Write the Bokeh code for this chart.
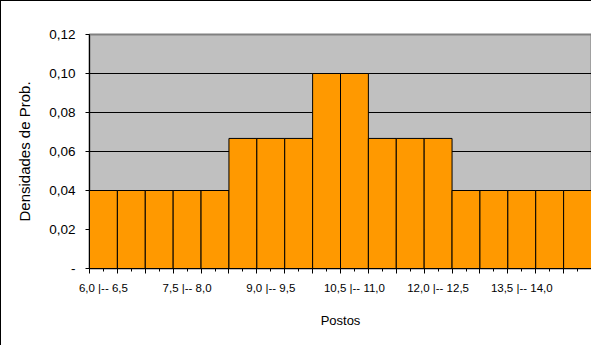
from bokeh.plotting import figure
from bokeh.models import FixedTicker, Range1d, ColumnDataSource
from bokeh.embed import file_html
from bokeh.resources import INLINE

categories = ["6,0 |-- 6,5", "6,5 |-- 7,0", "7,0 |-- 7,5", "7,5 |-- 8,0",
              "8,0 |-- 8,5", "8,5 |-- 9,0", "9,0 |-- 9,5", "9,5 |-- 10,0",
              "10,0 |-- 10,5", "10,5 |-- 11,0", "11,0 |-- 11,5", "11,5 |-- 12,0",
              "12,0 |-- 12,5", "12,5 |-- 13,0", "13,0 |-- 13,5", "13,5 |-- 14,0",
              "14,0 |-- 14,5", "14,5 |-- 15,0"]
densities = [0.04, 0.04, 0.04, 0.04, 0.04,
             0.0667, 0.0667, 0.0667,
             0.10, 0.10,
             0.0667, 0.0667, 0.0667,
             0.04, 0.04, 0.04, 0.04, 0.04]
y_ticks = [0.0, 0.02, 0.04, 0.06, 0.08, 0.10, 0.12]
y_tick_labels = ["-", "0,02", "0,04", "0,06", "0,08", "0,10", "0,12"]
label_every = 3

n = len(categories)
centers = [i + 0.5 for i in range(n)]
edges = [float(i) for i in range(n + 1)]

source = ColumnDataSource(data=dict(x=centers, top=densities, cat=categories))

FONT = "Liberation Sans"

p = figure(width=591, height=345, output_backend="svg", toolbar_location=None,
           x_range=Range1d(0, n), y_range=Range1d(0, 0.12),
           min_border_left=88, min_border_right=1, min_border_top=33, min_border_bottom=78)
p.styles = {"border-left": "1px solid black", "border-top": "1px solid black"}

p.border_fill_color = "white"
p.background_fill_color = "#C0C0C0"
p.outline_line_color = "#808080"
p.outline_line_width = 2

p.vbar(x="x", top="top", width=1.0, source=source,
       fill_color="#FF9900", line_color="black", line_width=1)

# grid
p.xgrid.visible = False
p.ygrid.ticker = FixedTicker(ticks=y_ticks)
p.ygrid.grid_line_color = "black"
p.ygrid.grid_line_width = 1

# x axis
xa = p.xaxis[0]
xa.ticker = FixedTicker(ticks=centers, minor_ticks=edges)
xa.major_label_overrides = {c: (categories[i] if i % label_every == 0 else "")
                            for i, c in enumerate(centers)}
xa.major_tick_in = 0
xa.major_tick_out = 3
xa.minor_tick_in = 0
xa.minor_tick_out = 5
xa.axis_line_color = "black"
xa.major_tick_line_color = "black"
xa.minor_tick_line_color = "black"
xa.major_label_text_font = FONT
xa.major_label_text_font_size = "11.5px"
xa.major_label_text_color = "black"
xa.major_label_standoff = 8
xa.axis_label = "Postos"
xa.axis_label_text_font = FONT
xa.axis_label_text_font_size = "13px"
xa.axis_label_text_font_style = "normal"
xa.axis_label_text_color = "black"
xa.axis_label_standoff = 16

# y axis
ya = p.yaxis[0]
ya.ticker = FixedTicker(ticks=y_ticks)
ya.major_label_overrides = {t: l for t, l in zip(y_ticks, y_tick_labels)}
ya.major_tick_in = 0
ya.major_tick_out = 4
ya.minor_tick_line_color = None
ya.axis_line_color = "black"
ya.major_tick_line_color = "black"
ya.major_label_text_font = FONT
ya.major_label_text_font_size = "13.5px"
ya.major_label_text_color = "black"
ya.major_label_standoff = 10
ya.axis_label = "Densidades de Prob."
ya.axis_label_text_font = FONT
ya.axis_label_text_font_size = "15px"
ya.axis_label_text_font_style = "normal"
ya.axis_label_text_color = "black"
ya.axis_label_standoff = 13

open("out.html", "w").write(file_html(p, INLINE))
